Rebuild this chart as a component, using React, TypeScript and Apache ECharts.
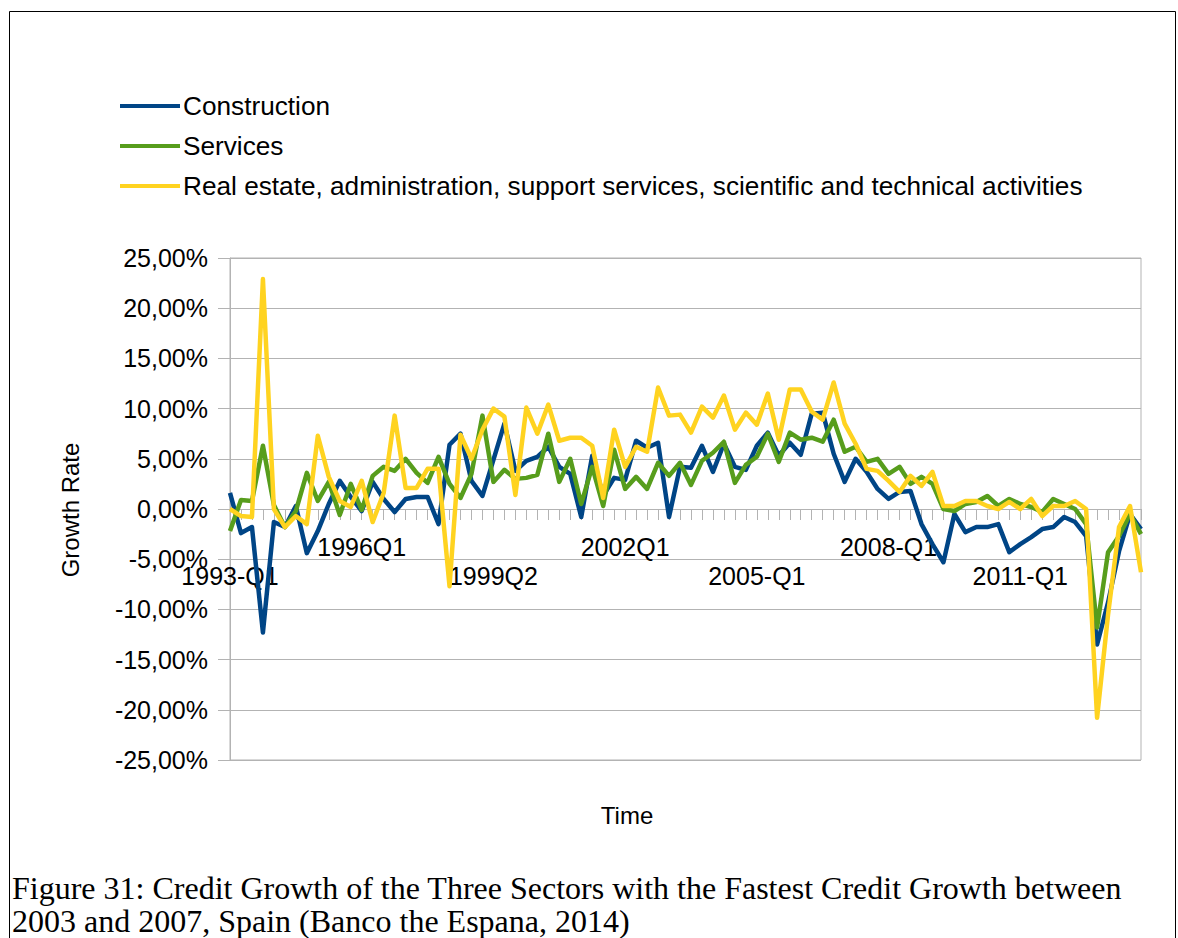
import React, { useEffect, useRef } from "react";
import * as echarts from "echarts";

const seriesNames = [
  "Construction",
  "Services",
  "Real estate, administration, support services, scientific and technical activities",
];
const seriesColors = ["#004586", "#579d1c", "#ffd320"];

const years = [1993, 1994, 1995, 1996, 1997, 1998, 1999, 2000, 2001, 2002, 2003, 2004, 2005, 2006, 2007, 2008, 2009, 2010, 2011, 2012, 2013];
const quarters = ["Q1", "Q2", "Q3", "Q4"];
const categories: string[] = [];
years.forEach((y) => quarters.forEach((q) => categories.push(`${y}-${q}`)));

const tickLabels = ["1993-Q1", "1996Q1", "1999Q2", "2002Q1", "2005-Q1", "2008-Q1", "2011-Q1"];

const construction = [
  1.6, -2.4, -1.8, -12.3, -1.3, -1.8, 0.3, -4.4, -2.2, 0.5, 2.8, 1.2,
  -0.2, 2.7, 1.0, -0.3, 1.0, 1.2, 1.2, -1.5, 6.4, 7.5, 2.8, 1.3,
  4.9, 8.5, 3.8, 4.8, 5.2, 6.2, 4.2, 3.5, -0.8, 5.3, 1.3, 3.1,
  2.9, 6.8, 6.1, 6.6, -0.8, 4.2, 4.1, 6.3, 3.7, 6.5, 4.2, 3.9,
  6.3, 7.6, 5.3, 6.6, 5.4, 9.5, 9.6, 5.5, 2.7, 5.0, 3.7, 2.0,
  1.0, 1.7, 1.8, -1.5, -3.5, -5.3, -0.5, -2.3, -1.8, -1.8, -1.5, -4.3,
  -3.5, -2.8, -2.0, -1.8, -0.8, -1.3, -2.7, -13.5, -9.3, -4.2, -0.5, -2.0,
];

const services = [
  -2.2, 0.9, 0.8, 6.3, 0.4, -1.8, -0.2, 3.6, 0.8, 2.7, -0.6, 2.5,
  -0.1, 3.3, 4.2, 3.8, 5.0, 3.6, 2.6, 5.2, 2.5, 1.1, 3.5, 9.3,
  2.7, 3.9, 3.0, 3.1, 3.4, 7.5, 2.7, 5.0, 0.5, 4.2, 0.3, 5.9,
  2.0, 3.2, 2.0, 4.6, 3.3, 4.6, 2.4, 4.8, 5.6, 6.7, 2.6, 4.4,
  5.2, 7.5, 4.7, 7.6, 6.9, 7.1, 6.7, 8.9, 5.7, 6.2, 4.7, 5.0,
  3.5, 4.2, 2.5, 3.2, 2.5, 0.0, -0.2, 0.5, 0.7, 1.3, 0.3, 1.0,
  0.5, 0.2, -0.3, 1.0, 0.5, 0.0, -1.5, -11.8, -4.3, -2.7, -0.5, -2.5,
];

const realEstate = [
  0.0, -0.7, -0.8, 22.9, 0.0, -1.8, -0.7, -1.5, 7.3, 3.2, 0.8, 0.2,
  2.8, -1.3, 1.6, 9.3, 2.1, 2.1, 4.0, 4.0, -7.7, 7.4, 5.0, 7.9,
  10.0, 9.2, 1.4, 10.1, 7.5, 10.4, 6.8, 7.1, 7.1, 6.3, 1.1, 7.9,
  4.2, 6.2, 5.7, 12.1, 9.3, 9.4, 7.6, 10.2, 9.1, 11.3, 7.9, 9.6,
  8.4, 11.5, 6.9, 11.9, 11.9, 9.7, 8.9, 12.6, 8.5, 6.5, 4.0, 3.8,
  2.8, 1.7, 3.3, 2.3, 3.7, 0.3, 0.3, 0.8, 0.8, 0.3, 0.0, 0.7,
  0.0, 1.0, -0.7, 0.3, 0.3, 0.8, 0.0, -20.8, -10.5, -1.8, 0.3, -6.3,
];

const seriesValues = [construction, services, realEstate];

const yAxisTitle = "Growth Rate";
const xAxisTitle = "Time";
const captionLines = [
  "Figure 31: Credit Growth of the Three Sectors with the Fastest Credit Growth between",
  "2003 and 2007, Spain (Banco the Espana, 2014)",
];

const SANS = "'Liberation Sans', Arial, sans-serif";
const SERIF = "'Liberation Serif', 'Times New Roman', serif";
const GRID_GRAY = "#b3b3b3";

export default function App() {
  const ref = useRef<HTMLDivElement>(null);

  useEffect(() => {
    if (!ref.current) return;
    const chart = echarts.init(ref.current, undefined, { renderer: "svg" });
    const option: any = {
      animation: false,
      backgroundColor: "#ffffff",
      textStyle: { fontFamily: SANS },
      legend: {
        orient: "vertical",
        left: 115,
        top: 88,
        icon: "rect",
        itemWidth: 60,
        itemHeight: 4,
        itemGap: 14,
        textStyle: { fontSize: 26.2, color: "#000", fontFamily: SANS, padding: [0, 0, 0, -2] },
        data: seriesNames,
      },
      grid: {
        left: 230,
        top: 258,
        width: 911,
        height: 502,
        show: true,
        borderColor: GRID_GRAY,
        borderWidth: 1,
        containLabel: false,
      },
      xAxis: {
        type: "category",
        data: categories,
        boundaryGap: false,
        axisLine: { onZero: true, lineStyle: { color: GRID_GRAY, width: 1 } },
        axisTick: { show: true, interval: 0, length: 11, lineStyle: { color: GRID_GRAY } },
        axisLabel: {
          interval: 11,
          fontSize: 25,
          lineHeight: 29,
          margin: -228,
          color: "#000",
          fontFamily: SANS,
          formatter: (_v: string, idx: number) => {
            const k = Math.round(idx / 12);
            const t = tickLabels[k] ?? "";
            return k % 2 === 0 ? "\n" + t : t;
          },
        },
        splitLine: { show: false },
      },
      yAxis: {
        type: "value",
        min: -25,
        max: 25,
        interval: 5,
        axisLine: { show: true, lineStyle: { color: GRID_GRAY } },
        axisTick: { show: true, length: 12, lineStyle: { color: GRID_GRAY } },
        axisLabel: {
          fontSize: 25,
          margin: 22,
          color: "#000",
          fontFamily: SANS,
          formatter: (v: number) => v.toFixed(2).replace(".", ",") + "%",
        },
        splitLine: { show: true, lineStyle: { color: GRID_GRAY, width: 1 } },
      },
      series: seriesNames.map((name, i) => ({
        name,
        type: "line",
        data: seriesValues[i],
        symbol: "none",
        showSymbol: false,
        lineStyle: { color: seriesColors[i], width: 4.5, join: "round" },
        itemStyle: { color: seriesColors[i] },
        z: 2 + i,
      })),
      graphic: [
        {
          type: "rect",
          shape: { x: 9.5, y: 11.5, width: 1166, height: 940 },
          style: { fill: "none", stroke: "#000", lineWidth: 1 },
          silent: true,
        },
        {
          type: "text",
          x: 70,
          y: 510,
          rotation: Math.PI / 2,
          style: {
            text: yAxisTitle,
            fontSize: 24,
            fontFamily: SANS,
            fill: "#000",
            align: "center",
            verticalAlign: "middle",
          },
        },
        {
          type: "text",
          x: 627,
          y: 815,
          style: {
            text: xAxisTitle,
            fontSize: 24,
            fontFamily: SANS,
            fill: "#000",
            align: "center",
            verticalAlign: "middle",
          },
        },
        ...captionLines.map((line, i) => ({
          type: "text",
          x: 12,
          y: 888 + i * 33,
          style: {
            text: line,
            fontSize: 32,
            fontFamily: SERIF,
            fill: "#000",
            align: "left",
            verticalAlign: "middle",
          },
        })),
      ],
    };
    chart.setOption(option);
    return () => chart.dispose();
  }, []);

  return (
    <div
      ref={ref}
      style={{ position: "absolute", left: 0, top: 0, width: 1178, height: 938, background: "#fff" }}
    />
  );
}
